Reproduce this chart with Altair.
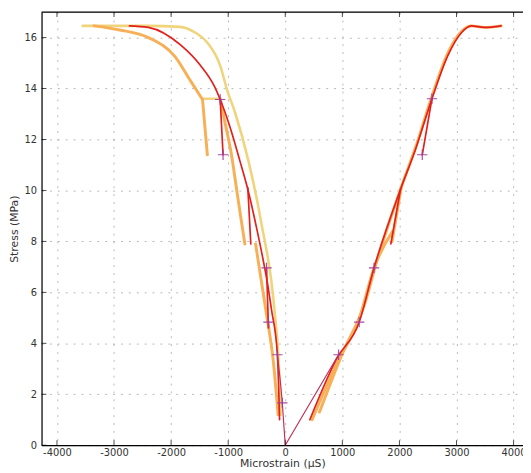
import altair as alt
import pandas as pd

x_ticks = [-4000, -3000, -2000, -1000, 0, 1000, 2000, 3000, 4000]
y_ticks = [0, 2, 4, 6, 8, 10, 12, 14, 16]

# ---- left (compression) side ----
L_yellow_x = [-3550, -2400, -1850, -1580, -1365, -1140, -1020, -880, -650, -420, -190, -110, -80]
L_yellow_y = [16.46, 16.46, 16.42, 16.2, 15.8, 14.9, 13.95, 13.06, 11.2, 8.73, 5.33, 3.0, 1.2]
L_orange_x = [-3350, -2900, -2400, -1935, -1660, -1450]
L_orange_y = [16.46, 16.3, 16.0, 15.26, 14.3, 13.57]
L_drop_x = [-1450, -1365]
L_drop_y = [13.57, 11.4]
L_conn_x = [-1450, -1140]
L_conn_y = [13.6, 13.6]
L_orange3_x = [-1140, -1050, -950, -830, -708]
L_orange3_y = [13.6, 12.6, 11.5, 9.7, 7.9]
L_orange4_x = [-520, -340, -210, -125]
L_orange4_y = [7.9, 5.3, 3.3, 1.2]
L_red_x = [-2730, -2400, -1830, -1485, -1245, -1140, -970, -800, -640, -500, -390, -300, -242, -138, -100]
L_red_y = [16.46, 16.4, 15.7, 14.9, 14.1, 13.57, 12.5, 11.2, 9.9, 8.5, 7.3, 6.2, 5.33, 3.55, 1.0]
L_redb1_x = [-1140, -1090]
L_redb1_y = [13.57, 11.4]
L_redb2_x = [-656, -604]
L_redb2_y = [10.1, 7.9]
L_redb3_x = [-328, -294]
L_redb3_y = [6.96, 4.6]
L_thin_x = [-138, -52, 0]
L_thin_y = [3.55, 1.66, 0]

# ---- right (tension) side ----
R_orange_a_x = [470, 900, 1300, 1555, 1880]
R_orange_a_y = [1.0, 3.2, 5.0, 6.96, 8.4]
R_orange_b_x = [600, 1000, 1400, 1600, 2020, 2300, 2570, 2850, 3090, 3260, 3490, 3780]
R_orange_b_y = [1.3, 3.6, 5.6, 7.2, 10.05, 11.8, 13.7, 15.4, 16.25, 16.46, 16.4, 16.46]
R_orange_c_x = [1870, 2030]
R_orange_c_y = [8.0, 10.1]
R_red_x = [430, 900, 1295, 1555, 2020, 2280, 2570, 2850, 3090, 3260, 3490, 3780]
R_red_y = [1.0, 3.4, 4.83, 6.96, 10.05, 11.6, 13.6, 15.3, 16.2, 16.46, 16.4, 16.46]
R_redb1_x = [2400, 2570]
R_redb1_y = [11.4, 13.6]
R_redb2_x = [1850, 2020]
R_redb2_y = [7.9, 10.05]
R_thin_x = [0, 933]
R_thin_y = [0, 3.55]

# ---- cross markers ----
cross_x = [933, 1295, 1555, 2400, 2570, -52, -138, -294, -328, -1090, -1140]
cross_y = [3.55, 4.83, 6.96, 11.4, 13.6, 1.66, 3.55, 4.83, 6.96, 11.4, 13.57]

series = [
    ("L_yellow", "yellow", L_yellow_x, L_yellow_y),
    ("L_conn", "yellow", L_conn_x, L_conn_y),
    ("L_orange", "orange", L_orange_x, L_orange_y),
    ("L_drop", "orange", L_drop_x, L_drop_y),
    ("L_orange3", "orange", L_orange3_x, L_orange3_y),
    ("L_orange4", "orange", L_orange4_x, L_orange4_y),
    ("R_orange_a", "orange", R_orange_a_x, R_orange_a_y),
    ("R_orange_b", "orange", R_orange_b_x, R_orange_b_y),
    ("R_orange_c", "orange", R_orange_c_x, R_orange_c_y),
    ("L_red", "red", L_red_x, L_red_y),
    ("L_redb1", "red", L_redb1_x, L_redb1_y),
    ("L_redb2", "red", L_redb2_x, L_redb2_y),
    ("L_redb3", "red", L_redb3_x, L_redb3_y),
    ("R_red", "red", R_red_x, R_red_y),
    ("R_redb1", "red", R_redb1_x, R_redb1_y),
    ("R_redb2", "red", R_redb2_x, R_redb2_y),
    ("L_thin", "thin", L_thin_x, L_thin_y),
    ("R_thin", "thin", R_thin_x, R_thin_y),
]
rows = []
for name, kind, xs_, ys_ in series:
    for i, (a, b) in enumerate(zip(xs_, ys_)):
        rows.append({"series": name, "kind": kind, "strain": a, "stress": b, "i": i})
df = pd.DataFrame(rows)

XD = [-4270, 4165]
YD = [0, 17]
xscale = alt.Scale(domain=XD, nice=False, zero=False)
yscale = alt.Scale(domain=YD, nice=False, zero=False)

FONT = "DejaVu Sans"
xaxis = alt.Axis(values=x_ticks, title="Microstrain (\u03bcS)", ticks=False, grid=True,
                 gridDash=[2, 6], gridColor="#a8a8a8", gridWidth=0.8,
                 domainColor="black", domainWidth=1.2, labelFontSize=10, labelColor="#333",
                 labelFont=FONT, titleFont=FONT, titleFontSize=11, titleFontWeight="normal",
                 titleColor="#333", labelPadding=2, titlePadding=1,
                 labelExpr="'' + datum.value")
yaxis = alt.Axis(values=y_ticks, title="Stress (MPa)", ticks=False, grid=True,
                 gridDash=[2, 6], gridColor="#a8a8a8", gridWidth=0.8,
                 domainColor="black", domainWidth=1.2, labelFontSize=10, labelColor="#333",
                 labelFont=FONT, titleFont=FONT, titleFontSize=11, titleFontWeight="normal",
                 titleColor="#333", labelPadding=5, titlePadding=5,
                 labelExpr="'' + datum.value")


def enc(ch):
    return ch.encode(
        x=alt.X("strain:Q", scale=xscale, axis=xaxis),
        y=alt.Y("stress:Q", scale=yscale, axis=yaxis),
    )


def lines(kind, color, width):
    return alt.Chart(df).transform_filter(alt.datum.kind == kind).mark_line(
        color=color, strokeWidth=width, clip=True, strokeCap="round", strokeJoin="round",
        interpolate="monotone"
    ).encode(
        x=alt.X("strain:Q", scale=xscale, axis=xaxis),
        y=alt.Y("stress:Q", scale=yscale, axis=yaxis),
        detail="series:N",
        order="i:Q",
    )


yellow = lines("yellow", "#f0d47c", 2.6)
orange = lines("orange", "#f7b057", 3.0)
red = lines("red", "#e3201c", 1.7)
thin = lines("thin", "#c0305a", 1.2)

cross_df = pd.DataFrame({"strain": cross_x, "stress": cross_y})
crosses = enc(alt.Chart(cross_df).mark_point(
    shape="M-1,0L1,0M0,-1L0,1", filled=False, color="#a23a9a", size=110, strokeWidth=1.2, opacity=0.9
))

bt = pd.DataFrame({"strain": x_ticks, "stress": [0] * len(x_ticks)})
tt = pd.DataFrame({"strain": x_ticks, "stress": [17] * len(x_ticks)})
lt = pd.DataFrame({"strain": [XD[0]] * len(y_ticks), "stress": y_ticks})
bticks = enc(alt.Chart(bt).mark_tick(orient="vertical", size=5, thickness=1, color="black", yOffset=-2.5))
tticks = enc(alt.Chart(tt).mark_tick(orient="vertical", size=5, thickness=1, color="black", yOffset=2.5))
lticks = enc(alt.Chart(lt).mark_tick(orient="horizontal", size=5, thickness=1, color="black", xOffset=2.5))
top_border = enc(alt.Chart(pd.DataFrame({"strain": [0], "stress": [17]})).mark_rule(
    color="black", strokeWidth=1.2)).encode(x=alt.value(0), x2=alt.value(488))

chart = alt.layer(
    yellow, orange, red, thin, crosses, bticks, tticks, lticks, top_border
).properties(
    width=488, height=439,
    autosize=alt.AutoSizeParams(type="none"),
    padding={"left": 34, "top": 1, "right": 0, "bottom": 25},
).configure_view(stroke=None).configure(background="white")

chart.save("out.html", embed_options={"renderer": "svg", "actions": False})
